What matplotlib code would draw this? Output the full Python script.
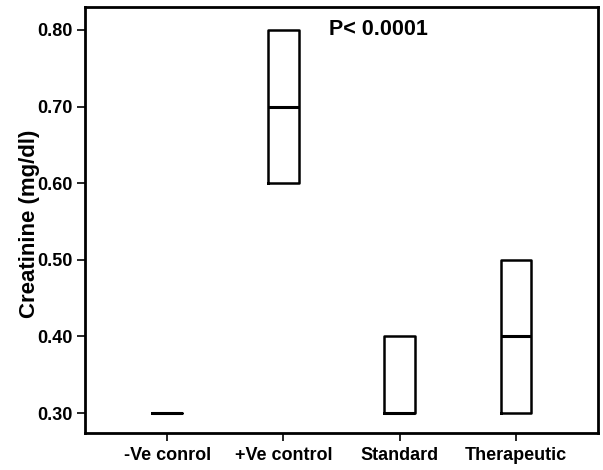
import matplotlib
matplotlib.use("Agg")
import matplotlib.pyplot as plt

plt.rcParams['font.family'] = ['Liberation Sans', 'DejaVu Sans']

categories = ["-Ve conrol", "+Ve control", "Standard", "Therapeutic"]
q1 = [0.30, 0.60, 0.30, 0.30]
median = [0.30, 0.70, 0.30, 0.40]
q3 = [0.30, 0.80, 0.40, 0.50]
whislo = [0.30, 0.60, 0.30, 0.30]
whishi = [0.30, 0.80, 0.40, 0.50]
yticks = [0.30, 0.40, 0.50, 0.60, 0.70, 0.80]

fig = plt.figure(figsize=(6.03, 4.70), dpi=100)
ax = fig.add_axes([85/603, 1 - 433/470, 513/603, 426/470])

stats = []
for i, c in enumerate(categories):
    stats.append(dict(label=c, q1=q1[i], med=median[i], q3=q3[i],
                      whislo=whislo[i], whishi=whishi[i], fliers=[]))

ax.bxp(stats, positions=range(len(categories)), widths=0.26,
       showcaps=False, showfliers=False,
       boxprops=dict(color='black', linewidth=1.8),
       whiskerprops=dict(color='black', linewidth=1.8),
       medianprops=dict(color='black', linewidth=2.2))

ax.set_xlim(-0.71, 3.71)
ax.set_ylim(0.274, 0.830)
ax.set_yticks(yticks)
ax.set_yticklabels([f"{v:.2f}" for v in yticks])
ax.set_xticks(range(len(categories)))
ax.set_xticklabels(categories)

for s in ax.spines.values():
    s.set_linewidth(2.0)
    s.set_color('black')

ax.tick_params(axis='both', direction='out', length=6, width=1.2,
               labelsize=13)
ax.tick_params(axis='y', pad=3)
ax.tick_params(axis='x', pad=4)
for lab in ax.get_xticklabels() + ax.get_yticklabels():
    lab.set_fontweight('bold')

ax.set_ylabel("Creatinine (mg/dl)", fontsize=16, fontweight='bold')
ax.yaxis.set_label_coords(-0.088, 0.49)

ax.text(0.475, 0.948, "P< 0.0001", transform=ax.transAxes,
        fontsize=15.5, fontweight='bold', ha='left', va='center')

fig.savefig("out.png", dpi=100)
